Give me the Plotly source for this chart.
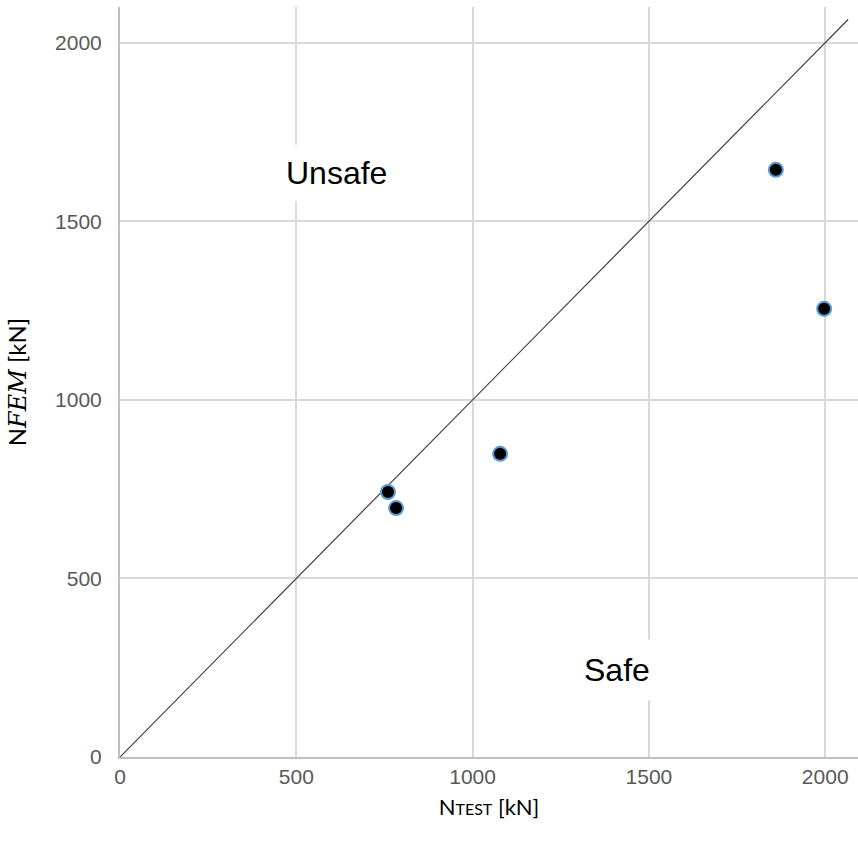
import plotly.graph_objects as go

n_test = [760, 783, 1078, 1860, 1997]
n_fem = [742, 697, 849, 1644, 1255]
ref_line_x = [0, 2065]
ref_line_y = [0, 2065]
x_ticks = [0, 500, 1000, 1500, 2000]
y_ticks = [0, 500, 1000, 1500, 2000]

fig = go.Figure()
fig.add_trace(go.Scatter(
    x=ref_line_x, y=ref_line_y, mode="lines",
    line=dict(color="#404040", width=1.2), hoverinfo="skip", showlegend=False))
fig.add_trace(go.Scatter(
    x=n_test, y=n_fem, mode="markers",
    marker=dict(size=14, color="black", line=dict(color="#5B9BD5", width=2)),
    showlegend=False))

fig.add_annotation(x=615, y=1636, text="Unsafe", showarrow=False,
                   font=dict(family="Liberation Sans, Arial", size=32, color="black"),
                   bgcolor="white", borderpad=10)
fig.add_annotation(x=1410, y=244, text="Safe", showarrow=False,
                   font=dict(family="Liberation Sans, Arial", size=32, color="black"),
                   bgcolor="white", borderpad=12)

tick_font = dict(family="Liberation Sans, Arial", size=21, color="#595959")
fig.update_layout(
    width=858, height=852,
    margin=dict(l=120, r=0, t=7, b=95),
    plot_bgcolor="white", paper_bgcolor="white",
    xaxis=dict(range=[0, 2093], tickvals=x_ticks, showgrid=True,
               gridcolor="#D9D9D9", gridwidth=2, zeroline=False,
               showline=True, linecolor="#BFBFBF", linewidth=2,
               tickfont=tick_font, ticks="", ticklen=0,
               title=dict(text="N<span style='font-size:16px'>TEST</span> [kN]",
                          font=dict(family="Lato, Liberation Sans", size=22, color="black"),
                          standoff=12)),
    yaxis=dict(range=[0, 2100], tickvals=y_ticks, showgrid=True,
               gridcolor="#D9D9D9", gridwidth=2, zeroline=False,
               showline=True, linecolor="#BFBFBF", linewidth=2,
               tickfont=tick_font, ticks="outside", ticklen=12, tickcolor="white",
               title=dict(text="N<i><span style='font-family:DejaVu Serif'>FEM</span></i> [kN]",
                          font=dict(family="Lato, Liberation Sans", size=24, color="black"),
                          standoff=22)),
)

fig.write_html("out.html")
